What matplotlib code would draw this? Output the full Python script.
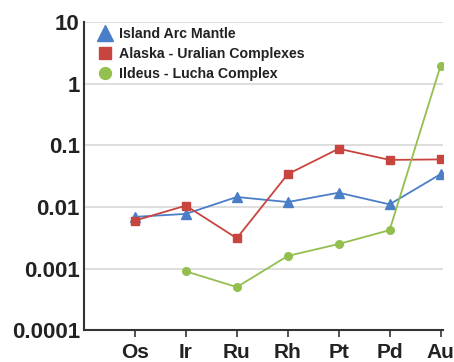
import matplotlib as mpl
mpl.use("Agg")
import matplotlib.pyplot as plt
import numpy as np

elements = ["Os", "Ir", "Ru", "Rh", "Pt", "Pd", "Au"]

island_arc = [0.0069, 0.0077, 0.0145, 0.012, 0.017, 0.011, 0.034]
alaska_ural = [0.006, 0.0105, 0.0031, 0.034, 0.088, 0.058, 0.059]
ildeus_lucha = [np.nan, 0.0009, 0.0005, 0.0016, 0.0025, 0.0042, 1.95]

plt.rcParams['font.family'] = ['Liberation Sans', 'DejaVu Sans']

fig = plt.figure(figsize=(4.54, 3.62), dpi=100)
ax = fig.add_axes([0.185, 0.088, 0.791, 0.851])

x = np.arange(1, len(elements) + 1)

ax.plot(x, island_arc, color="#4a7fc8", lw=1.3, marker="^", ms=7,
        label="Island Arc Mantle", zorder=3)
ax.plot(x, alaska_ural, color="#c8453f", lw=1.3, marker="s", ms=6,
        label="Alaska - Uralian Complexes", zorder=3)
ax.plot(x, ildeus_lucha, color="#93bf4f", lw=1.3, marker="o", ms=5.5,
        label="Ildeus - Lucha Complex", zorder=3)

ax.set_yscale("log")
ax.set_ylim(0.0001, 10)
ax.set_xlim(0, 7.05)
ax.set_yticks([0.0001, 0.001, 0.01, 0.1, 1, 10])
ax.set_yticklabels(["0.0001", "0.001", "0.01", "0.1", "1", "10"],
                   fontsize=16, fontweight="bold", color="#222222")
ax.yaxis.set_minor_locator(mpl.ticker.NullLocator())
ax.set_xticks(x)
ax.set_xticklabels(elements, fontsize=15, fontweight="bold", color="#222222")

ax.grid(True, axis="y", color="#d8d8d8", lw=1.2)
ax.set_axisbelow(True)
for s in ["top", "right"]:
    ax.spines[s].set_visible(False)
ax.spines["left"].set_color("#333333")
ax.spines["bottom"].set_color("#333333")
ax.spines["left"].set_linewidth(1.5)
ax.spines["bottom"].set_linewidth(1.5)
ax.tick_params(axis="y", length=0, pad=3)
ax.tick_params(axis="x", length=5, width=1.2, color="#333333", pad=4)

# legend uses bigger marker handles than the lines
leg = ax.legend(loc="upper left", bbox_to_anchor=(0.012, 1.015), frameon=False,
                fontsize=10.2, handlelength=1.0, handletextpad=0.5,
                labelspacing=0.4, borderaxespad=0.3, markerscale=1.55)
for h in leg.legend_handles:
    h.set_linestyle("none")
for t in leg.get_texts():
    t.set_fontweight("bold")
    t.set_color("#222222")

fig.savefig("out.png", dpi=100)
